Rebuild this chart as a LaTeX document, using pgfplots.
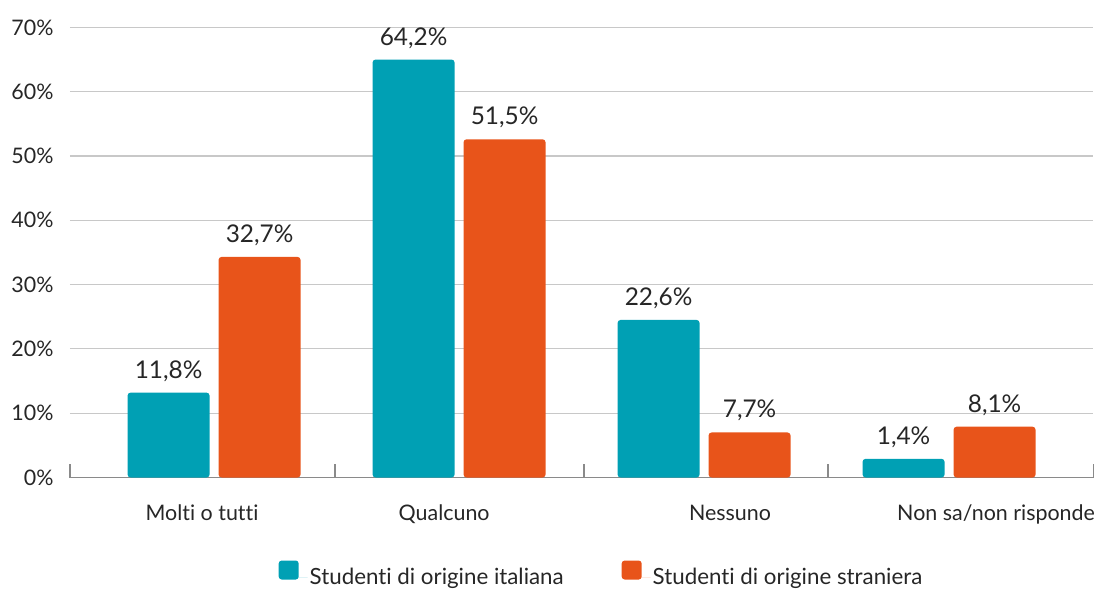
\documentclass[border=0pt]{standalone}
\usepackage{pgfplots}
\pgfplotsset{compat=1.18}
\usepackage{fontspec}
\setmainfont{Lato}[Ligatures=NoCommon]
\definecolor{tealc}{HTML}{00A0B4}
\definecolor{orangec}{HTML}{E8541A}
\definecolor{gridc}{HTML}{C8C8C8}
\definecolor{axisc}{HTML}{8A8A8A}
\definecolor{textc}{HTML}{262626}
\begin{document}
\begin{tikzpicture}
\begin{axis}[
  x=245bp, y=6.43bp,
  xmin=-0.588, xmax=3.588,
  ymin=0, ymax=70,
  clip=false,
  axis lines*=left,
  x axis line style={axisc, line width=1.2bp},
  y axis line style={draw=none},
  /pgf/number format/assume math mode=true,
  font=\fontsize{21.5}{25}\selectfont,
  ytick={0,10,...,70},
  yticklabel={\pgfmathprintnumber{\tick}\%},
  yticklabel style={text=textc, xshift=-13bp},
  ymajorgrids,
  grid style={gridc, line width=1.2bp},
  major tick length=0pt,
  xtick={-0.049,0.939,2.106,3.192},
  xticklabels={Molti o tutti, Qualcuno, Nessuno, Non sa/non risponde},
  xticklabel style={text=textc, yshift=-24bp},
  extra x ticks={-0.588,0.494,1.51,2.506,3.588},
  extra x tick labels={},
  extra x tick style={major tick length=14bp, tick style={axisc, line width=1.2bp}},
  nodes near coords,
  point meta=explicit symbolic,
  every node near coord/.append style={font=\fontsize{24.5}{28}\selectfont, text=textc, anchor=south, inner sep=0pt, yshift=11bp},
  legend style={at={(0.5195,0)}, anchor=center, yshift=-97bp, draw=none, fill=none,
    legend columns=2, font=\fontsize{22.4}{26}\selectfont, text=textc,
    /tikz/every even column/.append style={column sep=56bp}},
  legend image code/.code={\fill[#1] (0bp,-2bp) rectangle (20bp,17bp); \path (0bp,0bp) -- (29bp,0bp);},
]
\addplot[ybar, fill=tealc, draw=none, bar width=82bp, bar shift=-45.5bp, rounded corners=3bp,
  every node near coord/.append style={xshift=-45.5bp}]
  coordinates {(0,13.2) [{11,8\%}] (1,65.0) [{64,2\%}] (2,24.5) [{22,6\%}] (3,2.9) [{1,4\%}]};
\addlegendentry{Studenti di origine italiana}
\addplot[ybar, fill=orangec, draw=none, bar width=82bp, bar shift=45.5bp, rounded corners=3bp,
  every node near coord/.append style={xshift=45.5bp}]
  coordinates {(0,34.3) [{32,7\%}] (1,52.6) [{51,5\%}] (2,7.0) [{7,7\%}] (3,7.9) [{8,1\%}]};
\addlegendentry{Studenti di origine straniera}
\coordinate (O) at (axis cs:-0.588,0);
\end{axis}
\pgfresetboundingbox
\path[use as bounding box] ([shift={(-70bp,-115.5bp)}]O) rectangle ([shift={(1035bp,477.5bp)}]O);
\end{tikzpicture}
\end{document}
